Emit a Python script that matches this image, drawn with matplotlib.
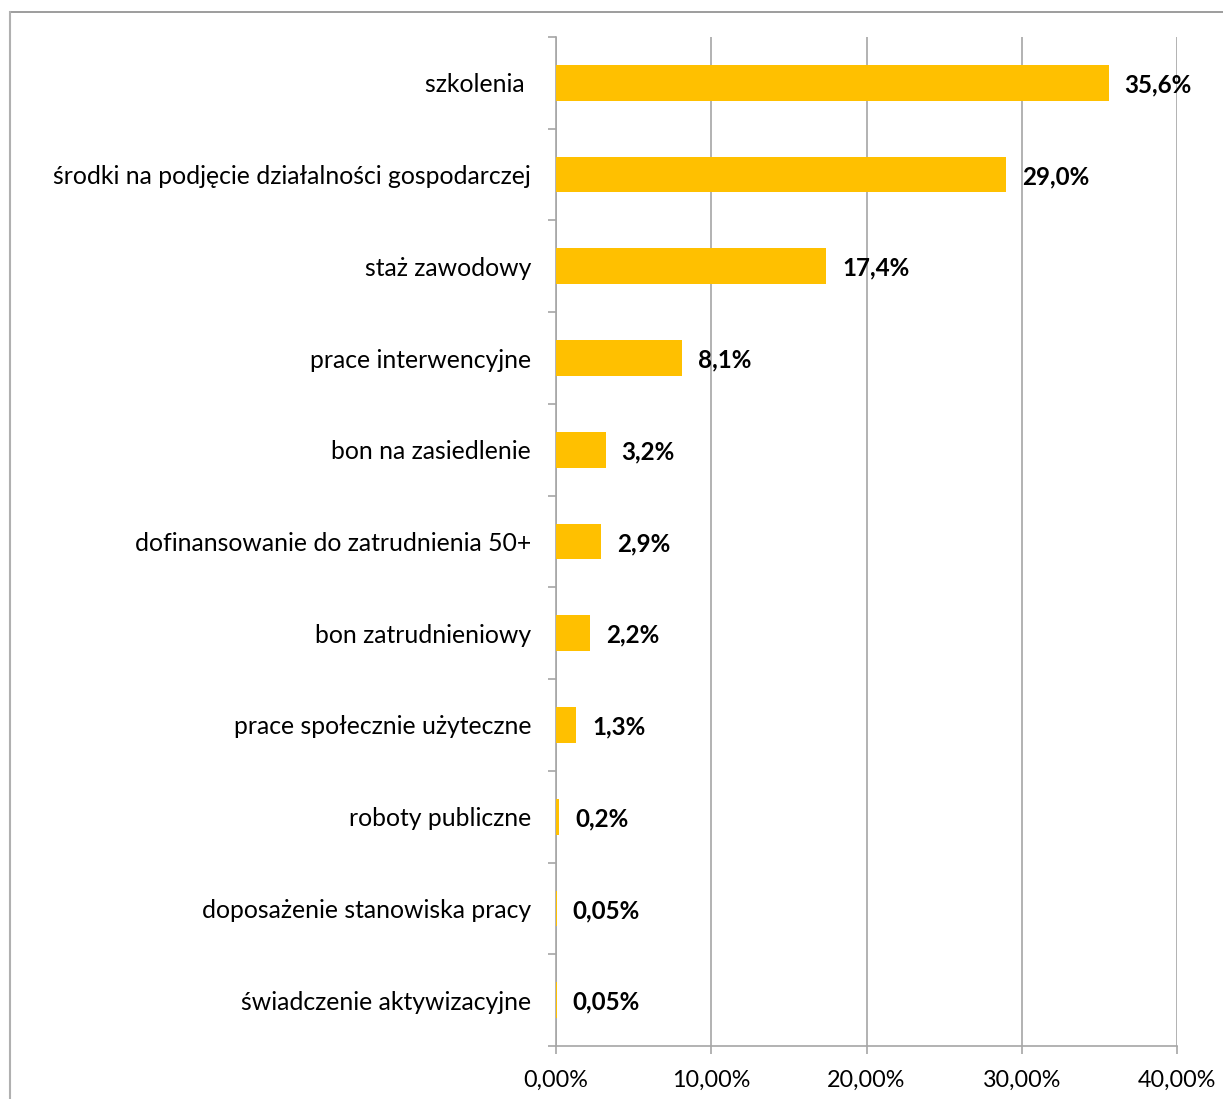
import matplotlib.pyplot as plt
from matplotlib.ticker import FuncFormatter, FixedLocator
from matplotlib.lines import Line2D
import numpy as np

plt.rcParams['font.family'] = ['Lato', 'DejaVu Sans']

categories = [
    "szkolenia ",
    "środki na podjęcie działalności gospodarczej",
    "staż zawodowy",
    "prace interwencyjne",
    "bon na zasiedlenie",
    "dofinansowanie do zatrudnienia 50+",
    "bon zatrudnieniowy",
    "prace społecznie użyteczne",
    "roboty publiczne",
    "doposażenie stanowiska pracy",
    "świadczenie aktywizacyjne",
]
values = [35.6, 29.0, 17.4, 8.1, 3.2, 2.9, 2.2, 1.3, 0.2, 0.05, 0.05]
value_labels = ["35,6%", "29,0%", "17,4%", "8,1%", "3,2%", "2,9%", "2,2%",
                "1,3%", "0,2%", "0,05%", "0,05%"]
x_ticks = [0, 10, 20, 30, 40]

grey = "#a6a6a6"

fig = plt.figure(figsize=(12.23, 10.99), dpi=100)
ax = fig.add_axes([556 / 1223, 1 - 1046 / 1099, 621 / 1223, 1009 / 1099])

n = len(categories)
y = np.arange(n)[::-1]
ax.barh(y, values, height=0.39, color="#FFC000", zorder=3)

for yi, v, lab in zip(y, values, value_labels):
    ax.annotate(lab, (v, yi), xytext=(11.5, -1.5), textcoords="offset points",
                va="center", ha="left", fontsize=17.4, fontweight="bold", color="black")

ax.set_xlim(0, 40)
ax.set_ylim(-0.5, n - 0.5)

ax.set_xticks(x_ticks)
ax.xaxis.set_major_formatter(FuncFormatter(lambda v, p: f"{v:.2f}%".replace(".", ",")))
ax.tick_params(axis="x", length=6, width=1.2, color=grey, labelsize=16.8, pad=11)
ax.grid(axis="x", color=grey, linewidth=1.2, zorder=0)

ax.set_yticks(y)
ax.set_yticklabels(categories)
ax.yaxis.set_minor_locator(FixedLocator(np.arange(n + 1) - 0.5))
ax.tick_params(axis="y", which="major", length=0, labelsize=17.8, pad=18)
ax.tick_params(axis="y", which="minor", length=6, width=1.2, color=grey)

for s in ["top", "right"]:
    ax.spines[s].set_visible(False)
for s in ["left", "bottom"]:
    ax.spines[s].set_color(grey)
    ax.spines[s].set_linewidth(1.2)

# outer chart border
fig.add_artist(Line2D([10 / 1223, 1], [1 - 12 / 1099, 1 - 12 / 1099], color="#8c8c8c", lw=1.2))
fig.add_artist(Line2D([10 / 1223, 10 / 1223], [0, 1 - 12 / 1099], color="#b0b0b0", lw=1.5))

fig.savefig("out.png", dpi=100)
